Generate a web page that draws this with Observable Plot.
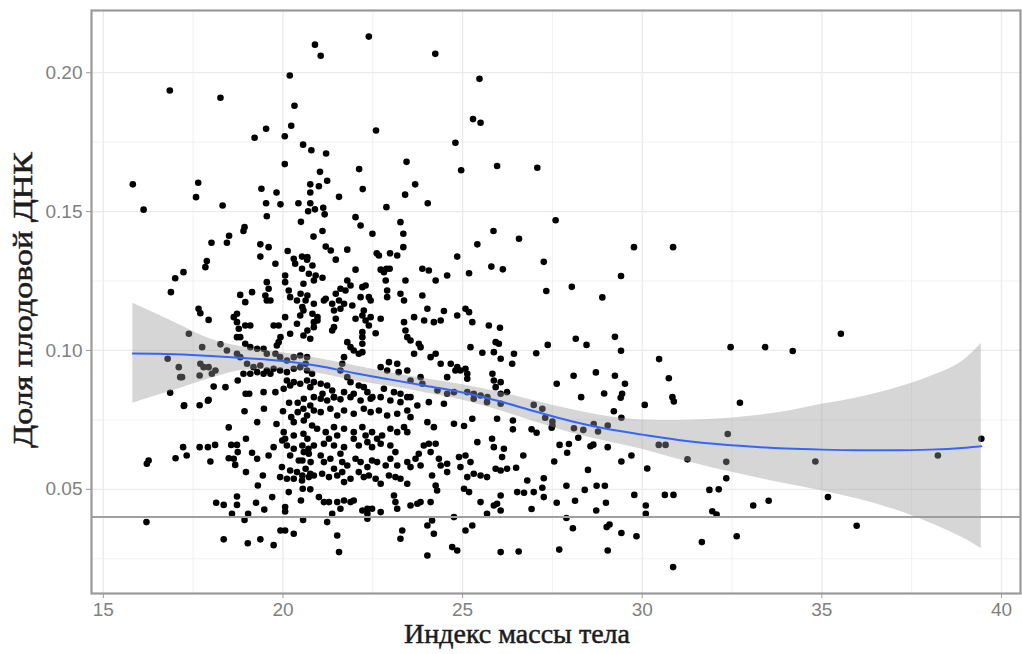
<!DOCTYPE html>
<html>
<head>
<meta charset="utf-8">
<script src="https://cdn.jsdelivr.net/npm/d3@7"></script>
<script src="https://cdn.jsdelivr.net/npm/@observablehq/plot@0.6"></script>
<style>
  html, body { margin: 0; padding: 0; background: #fff; }
  #chart { width: 1022px; height: 654px; }
</style>
</head>
<body>
<div id="chart"></div>
<script>
// ---- Tick labels / axis titles ----
const xTicks = [15, 20, 25, 30, 35, 40];
const xMinor = [17.5, 22.5, 27.5, 32.5, 37.5];
const yTicks = [0.05, 0.10, 0.15, 0.20];
const yMinor = [0.025, 0.075, 0.125, 0.175];
const xTitle = "Индекс массы тела";
const yTitle = "Доля плодовой ДНК";
const threshold = 0.04;

// ---- Observations: [BMI, fetal fraction] ----
const groupBelow19 = [
  [16.85,0.1936],[18.26,0.1910],[15.82,0.1598],[17.64,0.1604],[17.58,0.1552],[18.32,0.1522],[16.12,0.1507],
  [18.93,0.1444],[18.90,0.1430],[18.50,0.1413],[18.44,0.1388],[18.01,0.1388],[17.88,0.1322],[17.84,0.1300],
  [17.23,0.1282],[17.00,0.1260],[16.88,0.1210],[18.81,0.1200],[18.95,0.1174],[17.65,0.1150],[17.70,0.1134],
  [17.93,0.1110],[18.63,0.1120],[18.72,0.1132],[18.72,0.1102],[18.95,0.1090],[18.77,0.1078],[18.72,0.1048],
  [18.81,0.1048],[17.38,0.1060],[17.75,0.1012],[18.26,0.1022],[16.79,0.0970],[17.10,0.0940],[17.14,0.0904],
  [17.19,0.0904],[17.70,0.0952],[17.79,0.0940],[17.93,0.0940],[18.02,0.0916],[18.12,0.0928],[17.68,0.0910],
  [18.44,0.1000],[18.72,0.0988],[18.81,0.0976],[18.07,0.0870],[18.40,0.0868],[18.74,0.0892],[18.96,0.0844],
  [16.86,0.0848],[17.93,0.0822],[17.24,0.0800],[18.95,0.1024],[18.90,0.0916],[19.00,0.0952],
  [17.25,0.0803],[17.68,0.0803],[17.91,0.0819],[18.93,0.0781],[18.49,0.0723],[18.97,0.0682],[17.22,0.0652],
  [17.68,0.0652],[17.91,0.0652],[18.11,0.0660],[17.32,0.0622],[17.01,0.0612],[16.26,0.0604],[16.21,0.0592],
  [17.98,0.0600],[18.56,0.0660],[18.72,0.0660],[18.74,0.0634],[18.49,0.0612],[18.63,0.0610],[18.67,0.0588],
  [18.97,0.0562],[18.72,0.0474],[18.72,0.0444],[18.14,0.0452],[18.35,0.0444],[18.58,0.0412],[18.93,0.0390],
  [16.20,0.0382],[18.35,0.0320]
];

const group19to21 = [
  [20.89,0.2101],[21.05,0.2061],[20.19,0.1990],[20.32,0.1881],[20.23,0.1809],[19.53,0.1798],[19.21,0.1766],
  [20.05,0.1771],[20.56,0.1741],[20.79,0.1721],[20.05,0.1671],[21.03,0.1643],[19.40,0.1582],[19.82,0.1569],
  [20.76,0.1598],[21.00,0.1591],[20.76,0.1569],[19.53,0.1530],[19.93,0.1526],[20.43,0.1530],[20.76,0.1530],
  [21.20,0.1709],[21.23,0.1611],[20.89,0.1508],[21.12,0.1514],
  [19.55,0.1483],[20.50,0.1463],[20.70,0.1501],[19.37,0.1382],[19.60,0.1372],[19.37,0.1338],[20.13,0.1358],
  [19.79,0.1312],[20.30,0.1330],[20.53,0.1338],[20.67,0.1327],[20.34,0.1312],[20.53,0.1294],[19.55,0.1246],
  [19.60,0.1222],[19.51,0.1198],[19.55,0.1180],[19.65,0.1180],[20.06,0.1270],[20.06,0.1246],[20.16,0.1216],
  [20.20,0.1192],[20.39,0.1180],[20.57,0.1240],[19.14,0.1210],[19.09,0.1090],[19.74,0.1090],[19.88,0.1090],
  [20.06,0.1120],[20.48,0.1126],[20.57,0.1144],[20.39,0.1096],[19.93,0.1048],[19.88,0.1030],[19.83,0.1018],
  [20.57,0.1054],[20.76,0.1042],[19.06,0.0844],[20.20,0.1060],
  [19.09,0.1012],[19.28,0.1006],[19.46,0.1006],[19.55,0.0988],[19.79,0.0988],[19.92,0.0976],[20.11,0.0964],
  [20.30,0.0976],[20.48,0.0982],[20.67,0.0976],[19.18,0.0940],[19.37,0.0946],[19.55,0.0928],[19.74,0.0934],
  [19.92,0.0928],[20.11,0.0922],[20.30,0.0934],[20.48,0.0940],[20.67,0.0928],[20.81,0.0916],[19.09,0.0916],
  [19.28,0.0922],[19.46,0.0916],[19.65,0.0916],[20.11,0.0892],[20.30,0.0886],[20.48,0.0880],[20.67,0.0892],
  [19.46,0.0850],[19.79,0.0850],[20.02,0.0862],[20.20,0.0874],[20.76,0.0868],
  [20.85,0.1410],[20.68,0.1336],[20.82,0.1306],[20.72,0.1276],[20.91,0.1270],[20.86,0.1252],[20.86,0.1168],
  [20.63,0.1180],[20.68,0.1198],[20.49,0.1204],[20.54,0.1156],[20.82,0.1132],[20.96,0.1108],[20.86,0.1084],
  [20.68,0.1072],[20.96,0.1120],[20.86,0.1102],[20.63,0.0952],[20.86,0.0886],[21.16,0.1490],
  [19.47,0.0790],[20.17,0.0812],[20.41,0.0812],[19.28,0.0742],[19.82,0.0735],[20.00,0.0781],[20.23,0.0760],
  [20.41,0.0778],[20.30,0.0742],[19.14,0.0632],[19.28,0.0610],[19.60,0.0622],[19.74,0.0652],[19.98,0.0676],
  [20.06,0.0682],[19.44,0.0550],[19.30,0.0514],[20.16,0.0490],[20.55,0.0502],[20.76,0.0500],[19.70,0.0472],
  [19.25,0.0452],[19.48,0.0427],[20.06,0.0436],[20.06,0.0420],[20.50,0.0460],[19.03,0.0412],[20.56,0.0390],
  [19.02,0.0306],[19.37,0.0320],[19.74,0.0299],[19.93,0.0352],[20.06,0.0352],[20.30,0.0340],
  [20.57,0.0790],[20.76,0.0802],[20.67,0.0766],[20.02,0.0706],[20.30,0.0694],[20.57,0.0700],[20.11,0.0658],
  [20.30,0.0646],[20.71,0.0646],[20.20,0.0622],[20.44,0.0604],[19.97,0.0580],[20.20,0.0568],[20.39,0.0562],
  [20.76,0.0556],[19.92,0.0544],[20.11,0.0538],[20.30,0.0538],[20.53,0.0532],
  [20.58,0.0826],[20.86,0.0832],[20.86,0.0784],[20.58,0.0748],[20.81,0.0730],[20.95,0.0718],[20.68,0.0682],
  [20.54,0.0658],[20.86,0.0658],[20.58,0.0634],[20.72,0.0628],[20.54,0.0604],[20.77,0.0598],[20.63,0.0574],
  [20.54,0.0550],[20.72,0.0544],[20.86,0.0550]
];

const group21to23 = [
  [22.39,0.2130],[22.59,0.1792],[23.44,0.1679],[22.12,0.1653],[22.22,0.1581],[23.40,0.1561],[21.56,0.1553],
  [22.88,0.1516],
  [22.02,0.1480],[22.16,0.1450],[23.27,0.1462],[23.35,0.1420],[23.35,0.1372],[22.49,0.1420],[21.10,0.1430],
  [21.19,0.1374],[21.33,0.1360],[21.47,0.1327],[21.79,0.1363],[22.61,0.1350],[22.67,0.1342],[22.98,0.1350],
  [23.18,0.1342],[21.10,0.1262],[22.02,0.1291],[22.72,0.1291],[22.88,0.1294],[22.97,0.1294],[22.81,0.1282],
  [21.79,0.1252],[21.88,0.1234],[21.74,0.1216],[21.60,0.1222],[21.47,0.1204],[21.56,0.1180],[21.37,0.1168],
  [21.42,0.1144],[21.60,0.1150],[21.70,0.1168],[21.93,0.1162],[21.19,0.1186],[21.14,0.1180],[22.21,0.1228],
  [22.30,0.1234],[22.39,0.1192],[22.44,0.1180],[22.16,0.1192],[22.25,0.1144],[22.21,0.1126],[22.30,0.1108],
  [22.44,0.1120],[22.39,0.1090],[22.21,0.1066],[22.58,0.1062],[22.72,0.1114],[22.02,0.1114],[21.79,0.1030],
  [21.88,0.1012],[21.97,0.1000],[22.11,0.0988],[22.21,0.1024],[22.21,0.1048],[21.47,0.1114],[21.42,0.1084],
  [21.37,0.1072],[22.86,0.1252],[22.90,0.1216],[22.90,0.1192],[23.27,0.1204],[23.37,0.1180],[23.41,0.1252],
  [23.41,0.1072],[23.46,0.1048],[23.55,0.1036],[23.78,0.1024],[23.83,0.1012],[23.65,0.0988],[22.72,0.0940],
  [22.90,0.0928],[22.95,0.0958],[23.18,0.0952],[23.22,0.0922],[23.46,0.0928],[23.55,0.0892],[23.83,0.0904],
  [23.88,0.0880],[21.05,0.0880],[21.23,0.0874],[21.37,0.0856],[21.10,0.0844],[21.42,0.0832],[21.60,0.0928],
  [21.79,0.0904],[21.88,0.0886],[22.11,0.0874],[22.25,0.0868],[21.70,0.0850],[21.97,0.0844],[22.35,0.0850],
  [22.49,0.0832],[22.81,0.0862],[23.09,0.0850],[23.27,0.0844],[23.55,0.0832],[21.70,0.0976],[21.65,0.0952],
  [22.21,0.0994],[23.65,0.1120],[23.37,0.1102],
  [21.05,0.0826],[21.23,0.0820],[21.42,0.0832],[21.60,0.0824],[21.88,0.0832],[22.16,0.0820],[22.44,0.0826],
  [22.72,0.0832],[22.99,0.0820],[23.27,0.0814],[23.46,0.0832],[21.05,0.0778],[21.32,0.0790],[21.51,0.0766],
  [21.70,0.0784],[21.97,0.0772],[22.25,0.0790],[22.44,0.0778],[22.67,0.0784],[22.90,0.0766],[23.18,0.0772],
  [23.46,0.0784],[21.19,0.0706],[21.42,0.0724],[21.51,0.0694],[21.70,0.0718],[21.97,0.0706],[21.97,0.0682],
  [22.21,0.0724],[22.30,0.0694],[22.35,0.0670],[22.48,0.0706],[22.62,0.0682],[22.76,0.0694],[22.99,0.0718],
  [23.18,0.0706],[23.37,0.0724],[23.46,0.0706],[21.14,0.0664],[21.28,0.0682],[21.42,0.0658],[21.70,0.0652],
  [22.11,0.0658],[22.48,0.0652],[22.72,0.0664],[22.99,0.0658],[21.05,0.0622],[21.14,0.0598],[21.32,0.0610],
  [21.42,0.0574],[21.60,0.0628],[21.65,0.0598],[21.79,0.0586],[22.02,0.0610],[22.16,0.0598],[22.35,0.0580],
  [22.48,0.0604],[22.62,0.0598],[22.86,0.0586],[22.99,0.0610],[23.13,0.0634],[23.18,0.0586],[23.46,0.0598],
  [21.09,0.0556],[21.28,0.0544],[21.51,0.0550],[21.65,0.0562],[21.70,0.0526],[21.88,0.0538],[22.11,0.0562],
  [22.25,0.0544],[22.39,0.0550],[22.58,0.0538],[22.72,0.0520],[22.95,0.0550],[23.13,0.0544],[23.27,0.0538],
  [21.00,0.0472],[21.14,0.0454],[21.28,0.0454],[21.51,0.0454],[21.70,0.0460],[21.88,0.0454],[21.97,0.0460],
  [21.60,0.0430],[22.21,0.0424],[22.35,0.0430],[22.48,0.0430],[23.09,0.0478],[23.13,0.0454],[23.18,0.0430],
  [23.46,0.0520],[21.23,0.0382],[21.37,0.0412],[22.35,0.0412],[22.35,0.0394],[22.72,0.0418],[23.32,0.0352],
  [23.27,0.0322],[21.51,0.0334],[21.56,0.0274]
];

const group23to26 = [
  [24.24,0.2068],[25.47,0.1978],[25.29,0.1833],[25.50,0.1820],[24.80,0.1748],[24.96,0.1649],[25.96,0.1664],
  [23.68,0.1598],[24.03,0.1530],
  [23.88,0.1198],[23.88,0.1294],[24.06,0.1288],[24.25,0.1252],[24.57,0.1270],[25.18,0.1278],[24.85,0.1338],
  [25.41,0.1382],[25.86,0.1430],[25.80,0.1302],[26.12,0.1292],[26.57,0.1402],[24.02,0.1150],[24.48,0.1142],
  [24.20,0.1102],[24.39,0.1108],[23.93,0.1108],[24.85,0.1126],[25.08,0.1150],[25.18,0.1138],[25.27,0.1102],
  [25.73,0.1090],[26.04,0.1082],[24.11,0.0976],[24.25,0.0988],[24.39,0.0952],[24.67,0.0952],[24.85,0.0940],
  [24.94,0.0928],[25.08,0.0934],[25.13,0.0916],[25.22,0.1012],[25.55,0.0992],[25.92,0.1030],[26.01,0.1024],
  [25.87,0.0994],[26.06,0.0970],[26.43,0.0988],[26.38,0.0952],[24.30,0.0856],[24.57,0.0844],[24.76,0.0850],
  [25.13,0.0850],[25.31,0.0844],[25.50,0.0838],[25.69,0.0832],[26.06,0.0844],[26.24,0.0850],[25.87,0.0892],
  [25.92,0.0868],[25.83,0.0916],[26.06,0.0886],[24.57,0.0904],[24.80,0.0928],[25.13,0.0898],
  [23.74,0.0802],[24.06,0.0814],[24.48,0.0808],[25.31,0.0826],[25.68,0.0814],[26.06,0.0808],[23.55,0.0760],
  [24.02,0.0742],[24.20,0.0724],[24.76,0.0736],[25.04,0.0728],[25.27,0.0754],[25.96,0.0754],[23.92,0.0658],
  [24.06,0.0664],[24.25,0.0664],[25.41,0.0670],[25.82,0.0682],[25.87,0.0652],[26.15,0.0646],[26.10,0.0616],
  [23.55,0.0580],[23.69,0.0610],[23.78,0.0628],[23.83,0.0586],[24.11,0.0634],[24.15,0.0550],[24.34,0.0610],
  [24.39,0.0586],[24.57,0.0592],[24.57,0.0562],[24.90,0.0616],[24.94,0.0580],[25.08,0.0622],[25.22,0.0598],
  [25.31,0.0556],[25.13,0.0544],[25.50,0.0550],[25.68,0.0544],[25.92,0.0574],[26.06,0.0568],[26.24,0.0574],
  [23.55,0.0442],[23.74,0.0448],[23.83,0.0454],[24.11,0.0454],[24.25,0.0514],[24.29,0.0496],[25.04,0.0502],
  [25.18,0.0490],[25.50,0.0454],[25.87,0.0442],[26.06,0.0478],[26.06,0.0424],[25.96,0.0448],[25.68,0.0412],
  [24.02,0.0370],[24.15,0.0388],[24.20,0.0340],[24.76,0.0400],[25.08,0.0352],[25.27,0.0370],[24.71,0.0292],
  [24.85,0.0280],[24.02,0.0262],[26.06,0.0274]
];

const groupAbove26 = [
  [27.08,0.1658],[27.59,0.1469],[29.77,0.1372],[30.86,0.1372],[27.26,0.1319],[29.41,0.1268],[27.33,0.1214],
  [28.04,0.1229],[28.89,0.1191],[28.15,0.1042],[28.45,0.1020],[29.24,0.1049],[29.41,0.0999],[27.37,0.1020],
  [27.05,0.0990],[32.46,0.1012],[33.42,0.1012],[34.19,0.0998],[35.53,0.1060],[30.47,0.0969],[30.74,0.0900],
  [27.62,0.0880],[28.09,0.0909],[28.71,0.0921],[29.24,0.0909],[29.52,0.0880],[28.30,0.0832],[28.94,0.0845],
  [29.44,0.0844],[29.40,0.0830],[30.84,0.0832],
  [26.98,0.0804],[27.22,0.0790],[27.30,0.0758],[27.50,0.0744],[27.50,0.0730],[27.48,0.0722],[29.21,0.0781],
  [29.42,0.0758],[30.07,0.0804],[30.88,0.0816],[32.72,0.0812],[26.40,0.0748],[26.40,0.0716],[26.92,0.0716],
  [27.06,0.0704],[28.10,0.0720],[28.36,0.0714],[28.65,0.0735],[28.77,0.0708],[29.04,0.0730],[28.22,0.0686],
  [27.70,0.0660],[27.96,0.0663],[27.91,0.0632],[28.56,0.0655],[28.64,0.0661],[29.04,0.0652],[26.69,0.0622],
  [27.55,0.0600],[29.42,0.0600],[29.70,0.0622],[30.46,0.0660],[30.65,0.0660],[31.26,0.0608],[32.38,0.0699],
  [32.34,0.0599],[32.34,0.0540],[34.82,0.0600],[38.23,0.0622],[39.44,0.0682],[26.49,0.0578],[26.80,0.0532],
  [27.26,0.0540],[28.49,0.0570],[30.14,0.0575],[26.52,0.0490],[26.71,0.0488],[26.98,0.0490],[27.22,0.0506],
  [27.26,0.0472],[27.89,0.0513],[28.40,0.0498],[28.73,0.0513],[28.96,0.0513],[27.62,0.0452],[28.13,0.0459],
  [28.99,0.0452],[28.72,0.0424],[26.92,0.0429],[29.78,0.0480],[30.63,0.0480],[30.87,0.0480],[30.10,0.0442],
  [30.10,0.0412],[31.87,0.0498],[32.13,0.0500],[31.95,0.0421],[32.07,0.0409],[33.09,0.0442],[33.52,0.0459],
  [35.17,0.0472],[35.97,0.0369],[27.89,0.0397],[28.07,0.0360],[29.01,0.0364],[29.09,0.0373],[29.42,0.0343],
  [29.84,0.0331],[26.56,0.0276],[27.69,0.0283],[29.04,0.0280],[31.66,0.0310],[32.63,0.0331],[30.86,0.0220]
];

// ---- LOESS fit with confidence band ----
const smoothBmi  = [15.82, 16.5, 17, 18, 19, 20, 21, 22, 23, 24, 25, 26, 27, 28, 29, 30, 31, 32, 33, 34, 35, 36, 37, 38, 39, 39.44];
const smoothFit  = [0.0989,0.0988,0.0986,0.0980,0.0972,0.0962,0.0944,0.0918,0.0895,0.0872,0.0849,0.0818,0.0781,0.0746,0.0718,0.0697,0.0678,0.0664,0.0654,0.0647,0.0643,0.0641,0.0641,0.0643,0.0650,0.0655];
const smoothLow  = [0.0810,0.0838,0.0858,0.0900,0.0930,0.0932,0.0917,0.0891,0.0870,0.0847,0.0821,0.0785,0.0743,0.0704,0.0673,0.0644,0.0608,0.0576,0.0547,0.0520,0.0495,0.0465,0.0428,0.0380,0.0320,0.0286];
const smoothHigh = [0.1170,0.1130,0.1100,0.1040,0.1010,0.0992,0.0971,0.0945,0.0920,0.0897,0.0877,0.0851,0.0819,0.0788,0.0763,0.0750,0.0748,0.0752,0.0763,0.0780,0.0806,0.0830,0.0862,0.0905,0.0970,0.1025];

// ---- Build tables ----
const points = [...groupBelow19, ...group19to21, ...group21to23, ...group23to26, ...groupAbove26]
  .map(([bmi, ff]) => ({bmi, ff}));
const smooth = smoothBmi.map((b, i) => ({bmi: b, fit: smoothFit[i], lo: smoothLow[i], hi: smoothHigh[i]}));

const gridCol = "#ebebeb";
const axisGrey = "#808080";

const chart = Plot.plot({
  width: 1022,
  height: 654,
  marginLeft: 91,
  marginRight: 2,
  marginTop: 10,
  marginBottom: 61,
  style: {fontFamily: "'Liberation Sans', Arial, sans-serif", fontSize: "19px", background: "#fff"},
  x: {domain: [14.67, 40.53]},
  y: {domain: [0.0125, 0.2224]},
  marks: [
    Plot.ruleX(xMinor, {stroke: gridCol, strokeWidth: 0.7}),
    Plot.ruleY(yMinor, {stroke: gridCol, strokeWidth: 0.7}),
    Plot.ruleX(xTicks, {stroke: gridCol, strokeWidth: 1.3}),
    Plot.ruleY(yTicks, {stroke: gridCol, strokeWidth: 1.3}),
    Plot.dot(points, {x: "bmi", y: "ff", r: 3.3, fill: "#000", stroke: null}),
    Plot.ruleY([threshold], {stroke: "#a0a0a0", strokeWidth: 2}),
    Plot.areaY(smooth, {x: "bmi", y1: "lo", y2: "hi", fill: "#999", fillOpacity: 0.4, curve: "monotone-x"}),
    Plot.line(smooth, {x: "bmi", y: "fit", stroke: "#3366FF", strokeWidth: 2, curve: "monotone-x"}),
    Plot.frame({stroke: "#9a9a9a", strokeWidth: 2.2}),
    Plot.axisX({ticks: xTicks, tickSize: 5, tickPadding: 4, stroke: "#9a9a9a", fill: axisGrey, label: null, tickFormat: d => String(d)}),
    Plot.axisY({ticks: yTicks, tickSize: 5, tickPadding: 4, stroke: "#9a9a9a", fill: axisGrey, label: null, tickFormat: d3.format(".2f")})
  ]
});

const svg = d3.select(chart);
svg.append("text")
  .attr("x", 517).attr("y", 643)
  .attr("text-anchor", "middle")
  .attr("font-family", "'Liberation Serif', 'DejaVu Serif', serif")
  .attr("font-size", 27)
  .attr("fill", "#1c1c1c")
  .attr("stroke", "#1c1c1c")
  .attr("stroke-width", 0.5)
  .attr("textLength", 226)
  .attr("lengthAdjust", "spacingAndGlyphs")
  .text(xTitle);
svg.append("text")
  .attr("transform", "translate(32,300) rotate(-90)")
  .attr("text-anchor", "middle")
  .attr("font-family", "'Liberation Serif', 'DejaVu Serif', serif")
  .attr("font-size", 28)
  .attr("fill", "#1c1c1c")
  .attr("stroke", "#1c1c1c")
  .attr("stroke-width", 0.5)
  .attr("textLength", 296)
  .attr("lengthAdjust", "spacingAndGlyphs")
  .text(yTitle);

document.getElementById("chart").appendChild(chart);
</script>
</body>
</html>
